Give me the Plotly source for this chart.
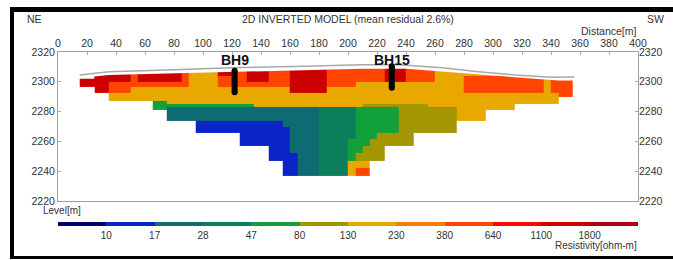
import plotly.graph_objects as go

# ---------------- data ----------------
RES_LEVELS = ["10", "17", "28", "47", "80", "130", "230", "380", "640", "1100", "1800"]
CLASS_CODES = "0123456789ab"   # class i = resistivity interval i of RES_LEVELS
CLASS_COLORS = ["#00006e", "#0a24c8", "#0e6b72", "#0d7e5c", "#12a03c", "#a49600",
                "#e8a800", "#f57d10", "#ff4500", "#f00a0a", "#cc0000", "#a80010"]

X0, DX, NCOL = 15, 5, 68            # model cells: 5 m columns from 15 m
LAYER_EDGES = [2312, 2308, 2304, 2300, 2296.5, 2292.5, 2290, 2287, 2285, 2283, 2281,
               2277.5, 2274, 2270, 2266, 2261.5, 2257, 2252, 2247, 2242, 2237]

MODEL_ROWS = [
    "a"*7 + "8" + "a"*6 + "8" + "6"*4 + "a"*2 + "8"*2 + "a"*3 + "8"*3 + "a"*5 + "8"*8 + "a"*3 + "8"*4 + "6"*4 + "6"*13 + "8"*2,
    "a"*7 + "8" + "a"*6 + "8" + "6"*4 + "a"*2 + "8"*2 + "a"*3 + "8"*3 + "a"*5 + "8"*8 + "a"*3 + "8"*4 + "6"*4 + "6"*13 + "8"*2,
    "a"*7 + "8" + "a"*6 + "8" + "6"*4 + "8"*4 + "a"*3 + "8"*3 + "a"*5 + "8"*8 + "a"*3 + "8"*4 + "6"*4 + "8"*11 + "6" + "8" + "8"*2,
    "a"*4 + "8"*11 + "6"*4 + "8"*10 + "a"*5 + "8"*4 + "6"*15 + "8"*11 + "6" + "8" + "8"*2,
    "."*2 + "a"*2 + "8"*3 + "6"*22 + "a"*5 + "6"*19 + "8"*11 + "6" + "8" + "8"*2,
    "."*4 + "6"*62 + "8"*2,
    "."*4 + "6"*62 + "."*2,
    "."*10 + "4"*2 + "6"*54 + "."*2,
    "."*10 + "4"*14 + "6"*15 + "5"*9 + "6"*12 + "."*8,
    "."*10 + "4"*2 + "2"*21 + "3"*5 + "4"*6 + "5"*8 + "6"*8 + "."*8,
    "."*12 + "2"*21 + "3"*5 + "4"*6 + "5"*8 + "6"*4 + "."*12,
    "."*12 + "2"*21 + "3"*5 + "4"*6 + "5"*8 + "6"*4 + "."*12,
    "."*16 + "1"*12 + "2"*5 + "3"*5 + "4"*6 + "5"*8 + "."*16,
    "."*16 + "1"*13 + "2"*4 + "3"*5 + "4"*6 + "5"*8 + "."*16,
    "."*22 + "1"*7 + "2"*4 + "3"*5 + "4"*3 + "5"*5 + "."*22,
    "."*22 + "1"*7 + "2"*4 + "3"*4 + "4"*3 + "5"*6 + "."*22,
    "."*26 + "1"*3 + "2"*4 + "3"*4 + "4"*2 + "5"*3 + "."*26,
    "."*26 + "1"*4 + "2"*3 + "3"*4 + "4" + "5"*4 + "."*26,
    "."*28 + "1"*2 + "2"*3 + "3"*4 + "6"*3 + "."*28,
    "."*28 + "1"*2 + "2"*3 + "3"*4 + "6" + "8"*2 + "."*28,
]

# model top (top of coloured section) and surface line
TOP_X = [15, 25, 25, 35, 75, 120, 170, 210, 240, 265, 290, 315, 340, 345, 355]
TOP_Z = [2302, 2302, 2303.5, 2304.5, 2305.5, 2306.5, 2308, 2308.8, 2308.8, 2307, 2304.8, 2303, 2301.5, 2300.8, 2300.8]
SURF_X = [15, 35, 75, 120, 170, 210, 235, 265, 290, 315, 340, 356]
SURF_Z = [2304.6, 2306.8, 2308, 2309.5, 2310.5, 2311.5, 2311.5, 2309.5, 2306.8, 2304.6, 2303, 2303.2]

BOREHOLES = ["BH9", "BH15"]
BH_X = [121.8, 230.2]
BH_TOP = [2307.5, 2310.5]
BH_BOTTOM = [2293, 2296]

# ---------------- build ----------------
for r in MODEL_ROWS:
    assert len(r) == NCOL, len(r)

x_edges = [X0 + DX * i for i in range(NCOL + 1)]
y_edges = LAYER_EDGES[::-1]
z = [[(CLASS_CODES.index(ch) + 0.5) if ch != "." else None for ch in row] for row in MODEL_ROWS[::-1]]

n = len(CLASS_COLORS)
cscale = []
for i, c in enumerate(CLASS_COLORS):
    cscale.append([i / n, c])
    cscale.append([(i + 1) / n, c])

FONT = "Liberation Sans, Arial, sans-serif"
TXT = "#333333"

# plot area in pixels: x 58..638, y 52..201
L, R, T, B = 58, 35, 52, 59
PW, PH = 673 - L - R, 260 - T - B


def px(xp):
    return (xp - L) / PW


def py(yp):
    return (T + PH - yp) / PH


fig = go.Figure()
fig.add_trace(go.Heatmap(
    x=x_edges, y=y_edges, z=z, colorscale=cscale, zmin=0, zmax=n,
    hoverinfo="skip",
    colorbar=dict(orientation="h", x=0, xanchor="left", y=py(222), yanchor="top",
                  len=1, lenmode="fraction", thickness=4, outlinewidth=0,
                  xpad=0, ypad=0, ticks="", tickvals=list(range(1, n)), ticktext=RES_LEVELS,
                  tickfont=dict(family=FONT, size=10, color=TXT)),
))

mask_x = [14] + TOP_X + [356, 356, 14]
mask_y = [TOP_Z[0]] + TOP_Z + [TOP_Z[-1], 2313.5, 2313.5]
fig.add_trace(go.Scatter(x=mask_x, y=mask_y, fill="toself", fillcolor="white",
                         mode="lines", line=dict(width=0, color="white"),
                         hoverinfo="skip", showlegend=False))
fig.add_trace(go.Scatter(x=SURF_X, y=SURF_Z, mode="lines",
                         line=dict(color="#a8a8a8", width=1.5), hoverinfo="skip", showlegend=False))
for name, bx, bt, bb in zip(BOREHOLES, BH_X, BH_TOP, BH_BOTTOM):
    fig.add_trace(go.Scatter(x=[bx, bx], y=[bt, bb], mode="lines+markers",
                             line=dict(color="black", width=6),
                             marker=dict(color="black", size=6), hoverinfo="skip", showlegend=False))
    fig.add_annotation(x=bx, y=2314.8, text="<b>%s</b>" % name, showarrow=False,
                       font=dict(family=FONT, size=14, color="#111"), xanchor="center", yanchor="middle")

fig.add_trace(go.Scatter(x=[None], y=[None], yaxis="y2", showlegend=False, hoverinfo="skip"))

axis_common = dict(showgrid=False, zeroline=False, ticks="inside", ticklen=3, tickcolor="#aaa",
                   automargin=False, tickfont=dict(family=FONT, size=10.5, color=TXT))
fig.update_layout(
    width=673, height=260, margin=dict(l=L, r=R, t=T, b=B, pad=0, autoexpand=False),
    paper_bgcolor="white", plot_bgcolor="white", showlegend=False,
    xaxis=dict(range=[0, 400], dtick=20, side="top", showline=True, linecolor="#a0a0a0",
               linewidth=1, mirror=True, **axis_common),
    yaxis=dict(range=[2220, 2320], dtick=20, showline=True, linecolor="#a0a0a0",
               linewidth=1, mirror=True, **axis_common),
    yaxis2=dict(range=[2220, 2320], dtick=20, overlaying="y", side="right", showline=False,
                **axis_common),
)

ann = [
    ("2D INVERTED MODEL (mean residual 2.6%)", px(348), py(19), "center", 10.5),
    ("NE", px(25), py(19), "left", 10.5),
    ("SW", px(666), py(19), "right", 10.5),
    ("Distance[m]", px(639), py(31), "right", 10.5),
    ("Level[m]", px(41), py(211), "left", 10),
    ("Resistivity[ohm-m]", px(639), py(245), "right", 10),
]
for text, ax, ay, xa, fs in ann:
    fig.add_annotation(x=ax, y=ay, xref="paper", yref="paper", text=text, showarrow=False,
                       xanchor=xa, yanchor="middle", font=dict(family=FONT, size=fs, color=TXT))

# picture frame
frame = [(10, 7, 673, 12), (10, 7, 14, 259), (10, 256, 673, 259)]
for x0, y0, x1, y1 in frame:
    fig.add_shape(type="rect", xref="paper", yref="paper", x0=px(x0), x1=px(x1), y0=py(y0), y1=py(y1),
                  fillcolor="black", line=dict(width=0), layer="above")

fig.write_html("out.html", config={"displayModeBar": False},
               post_script="document.body.style.margin='0';document.body.style.padding='0';")
